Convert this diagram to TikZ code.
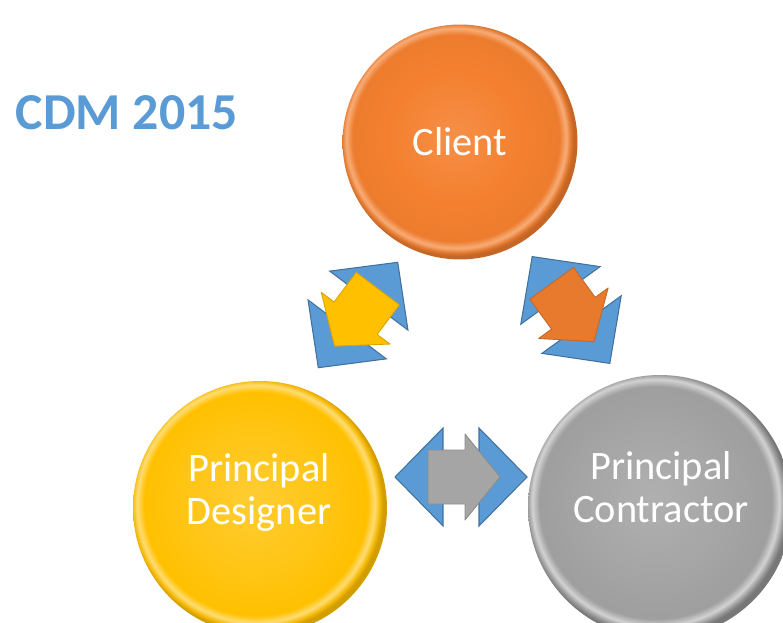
\documentclass[tikz,border=0pt]{standalone}
\usepackage{fontspec}
\setmainfont{Carlito}
\definecolor{cdmBlue}{HTML}{5B9BD5}
\definecolor{cdmBlueEdge}{HTML}{41719C}
\definecolor{cdmOrange}{HTML}{F4802F}
\definecolor{cdmYellow}{HTML}{FFC000}
\definecolor{cdmGrey}{HTML}{A5A5A5}
\usetikzlibrary{positioning}

% bevelled discs (disc edge sits at 25bp)
\pgfdeclareradialshading{clientglow}{\pgfpoint{-1.5bp}{1.5bp}}{%
  color(0bp)=(cdmOrange!88!white); color(14bp)=(cdmOrange);
  color(22bp)=(cdmOrange!97!black); color(23.4bp)=(cdmOrange!65!white);
  color(24.4bp)=(cdmOrange!92!black); color(25bp)=(cdmOrange!80!black);
  color(50bp)=(cdmOrange!80!black)}
\pgfdeclareradialshading{designerglow}{\pgfpoint{-1.5bp}{1.5bp}}{%
  color(0bp)=(cdmYellow!80!white); color(14bp)=(cdmYellow!92!white);
  color(22bp)=(cdmYellow); color(23.4bp)=(cdmYellow!55!white);
  color(24.4bp)=(cdmYellow!95!black); color(25bp)=(cdmYellow!82!black);
  color(50bp)=(cdmYellow!82!black)}
\pgfdeclareradialshading{contractorglow}{\pgfpoint{-1.5bp}{1.5bp}}{%
  color(0bp)=(cdmGrey!88!white); color(14bp)=(cdmGrey);
  color(22bp)=(cdmGrey!96!black); color(23.4bp)=(cdmGrey!50!white);
  color(24.4bp)=(cdmGrey!90!black); color(25bp)=(cdmGrey!72!black);
  color(50bp)=(cdmGrey!72!black)}

% two-way link: blue heads with a coloured block arrow on top
\newcommand{\linkpair}[3]{%
  \begin{scope}[shift={#1}, rotate=#2]
    \filldraw[linkhead] (-66,0) -- (-18,49) -- (-18,-49) -- cycle;
    \filldraw[linkhead] (66,0) -- (18,49) -- (18,-49) -- cycle;
    \filldraw[linkarrow, fill=#3, draw=#3!85!black]
      (-33,-27) -- (4,-27) -- (4,-43) -- (39,0) -- (4,43) -- (4,27)
      -- (-33,27) -- cycle;
  \end{scope}}

\begin{document}
\begin{tikzpicture}[x=0.02cm, y=0.02cm,
  disc/.style={circle, inner sep=0pt},
  role/.style={text=white, align=center, font=\fontsize{23}{24.5}\selectfont},
  linkhead/.style={fill=cdmBlue, draw=cdmBlueEdge, line width=0.6pt},
  linkarrow/.style={line width=0.5pt, line join=round}
]
  \useasboundingbox (0,0) rectangle (783,622);

  \node[font=\fontsize{29.5}{32}\selectfont\bfseries, text=cdmBlue] (title) at (127,509) {CDM 2015};

  \node[disc, minimum size=4.7cm, shading=clientglow] (client) at (460,480) {};
  \node[disc, minimum size=5.08cm, shading=designerglow] (designer) at (260,114) {};
  \node[disc, minimum size=5.28cm, shading=contractorglow] (contractor) at (660,115) {};

  \node[role] (clientlbl) at (client.center) {Client};
  \node[role] (designerlbl) at (259,130) {Principal\\Designer};
  \node[role] (contractorlbl) at (661,135) {Principal\\Contractor};

  \linkpair{(358,307)}{-127}{cdmYellow}
  \linkpair{(571,312)}{-54}{cdmOrange!95!black}
  \linkpair{(461,145)}{0}{cdmGrey}
\end{tikzpicture}
\end{document}
